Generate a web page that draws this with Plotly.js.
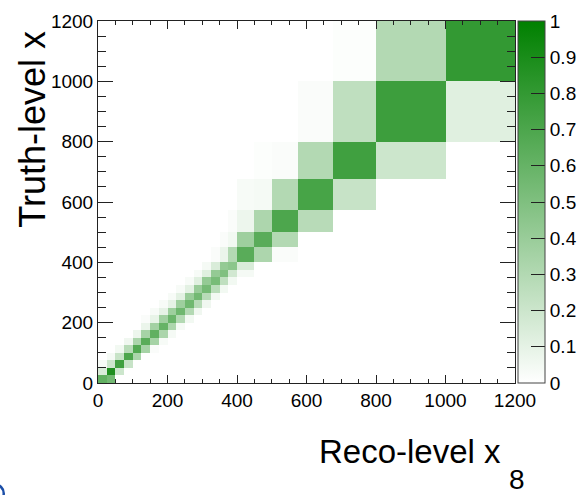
<!DOCTYPE html>
<html>
<head>
<meta charset="utf-8">
<script src="https://cdn.plot.ly/plotly-3.0.1.min.js"></script>
<style>
  html, body { margin: 0; padding: 0; background: #ffffff; }
  #chart { width: 581px; height: 495px; }
</style>
</head>
<body>
<div id="chart"></div>
<script>
// Variable-width bin edges, shared by the reco (x) and truth (y) axes
const recoEdges  = [0, 25, 50, 75, 100, 125, 150, 175, 200, 225, 250, 275, 300, 325, 350, 375, 400, 450, 500, 575, 675, 800, 1000, 1200];
const truthEdges = [0, 25, 50, 75, 100, 125, 150, 175, 200, 225, 250, 275, 300, 325, 350, 375, 400, 450, 500, 575, 675, 800, 1000, 1200];

// Migration fractions: one row per truth bin, one column per reco bin
const migration = [
  [0.62, 0.55, 0, 0, 0, 0, 0, 0, 0, 0, 0, 0, 0, 0, 0, 0, 0, 0, 0, 0, 0, 0, 0],
  [0.15, 0.88, 0.20, 0, 0, 0, 0, 0, 0, 0, 0, 0, 0, 0, 0, 0, 0, 0, 0, 0, 0, 0, 0],
  [0.03, 0.20, 0.75, 0.22, 0, 0, 0, 0, 0, 0, 0, 0, 0, 0, 0, 0, 0, 0, 0, 0, 0, 0, 0],
  [0, 0.04, 0.22, 0.70, 0.33, 0, 0, 0, 0, 0, 0, 0, 0, 0, 0, 0, 0, 0, 0, 0, 0, 0, 0],
  [0, 0, 0.05, 0.28, 0.68, 0.35, 0.02, 0, 0, 0, 0, 0, 0, 0, 0, 0, 0, 0, 0, 0, 0, 0, 0],
  [0, 0, 0, 0.06, 0.33, 0.65, 0.35, 0.03, 0, 0, 0, 0, 0, 0, 0, 0, 0, 0, 0, 0, 0, 0, 0],
  [0, 0, 0, 0, 0.07, 0.35, 0.62, 0.33, 0.04, 0, 0, 0, 0, 0, 0, 0, 0, 0, 0, 0, 0, 0, 0],
  [0, 0, 0, 0, 0, 0.08, 0.36, 0.60, 0.32, 0.04, 0, 0, 0, 0, 0, 0, 0, 0, 0, 0, 0, 0, 0],
  [0, 0, 0, 0, 0, 0.02, 0.09, 0.37, 0.58, 0.30, 0.05, 0, 0, 0, 0, 0, 0, 0, 0, 0, 0, 0, 0],
  [0, 0, 0, 0, 0, 0, 0.03, 0.10, 0.38, 0.57, 0.30, 0.06, 0, 0, 0, 0, 0, 0, 0, 0, 0, 0, 0],
  [0, 0, 0, 0, 0, 0, 0, 0.03, 0.10, 0.38, 0.56, 0.28, 0.06, 0, 0, 0, 0, 0, 0, 0, 0, 0, 0],
  [0, 0, 0, 0, 0, 0, 0, 0, 0.03, 0.11, 0.40, 0.55, 0.28, 0.05, 0, 0, 0, 0, 0, 0, 0, 0, 0],
  [0, 0, 0, 0, 0, 0, 0, 0, 0, 0.03, 0.11, 0.40, 0.54, 0.27, 0.05, 0, 0, 0, 0, 0, 0, 0, 0],
  [0, 0, 0, 0, 0, 0, 0, 0, 0, 0, 0.03, 0.12, 0.42, 0.53, 0.25, 0.05, 0, 0, 0, 0, 0, 0, 0],
  [0, 0, 0, 0, 0, 0, 0, 0, 0, 0, 0, 0.03, 0.12, 0.42, 0.50, 0.18, 0.04, 0, 0, 0, 0, 0, 0],
  [0, 0, 0, 0, 0, 0, 0, 0, 0, 0, 0, 0, 0.04, 0.15, 0.42, 0.45, 0.15, 0, 0, 0, 0, 0, 0],
  [0, 0, 0, 0, 0, 0, 0, 0, 0, 0, 0, 0, 0, 0.02, 0.08, 0.30, 0.65, 0.32, 0.02, 0, 0, 0, 0],
  [0, 0, 0, 0, 0, 0, 0, 0, 0, 0, 0, 0, 0, 0, 0.02, 0.05, 0.38, 0.65, 0.30, 0, 0, 0, 0],
  [0, 0, 0, 0, 0, 0, 0, 0, 0, 0, 0, 0, 0, 0, 0, 0.02, 0.07, 0.32, 0.70, 0.28, 0, 0, 0],
  [0, 0, 0, 0, 0, 0, 0, 0, 0, 0, 0, 0, 0, 0, 0, 0, 0.03, 0.04, 0.30, 0.72, 0.22, 0, 0],
  [0, 0, 0, 0, 0, 0, 0, 0, 0, 0, 0, 0, 0, 0, 0, 0, 0, 0.01, 0.02, 0.30, 0.75, 0.20, 0],
  [0, 0, 0, 0, 0, 0, 0, 0, 0, 0, 0, 0, 0, 0, 0, 0, 0, 0, 0, 0.02, 0.25, 0.76, 0.12],
  [0, 0, 0, 0, 0, 0, 0, 0, 0, 0, 0, 0, 0, 0, 0, 0, 0, 0, 0, 0, 0.01, 0.30, 0.80]
];

// Axis and colour-bar tick labels
const axisTicks = [0, 200, 400, 600, 800, 1000, 1200];
const axisTickText = ["0", "200", "400", "600", "800", "1000", "1200"];
const scaleTicks = [0, 0.1, 0.2, 0.3, 0.4, 0.5, 0.6, 0.7, 0.8, 0.9, 1];
const scaleTickText = ["0", "0.1", "0.2", "0.3", "0.4", "0.5", "0.6", "0.7", "0.8", "0.9", "1"];

const FONT = "Liberation Sans, Arial, Helvetica, sans-serif";
const INK = "#222222";

const trace = {
  type: "heatmap",
  x: recoEdges,
  y: truthEdges,
  z: migration,
  zmin: 0,
  zmax: 1,
  zsmooth: false,
  colorscale: [[0, "rgb(255,255,255)"], [1, "rgb(0,128,0)"]],
  hoverinfo: "skip",
  colorbar: {
    x: 1.007,
    xanchor: "left",
    y: 0.5,
    yanchor: "middle",
    len: 1,
    lenmode: "fraction",
    thickness: 27,
    thicknessmode: "pixels",
    xpad: 0,
    ypad: 0,
    outlinewidth: 1,
    outlinecolor: "#444444",
    ticks: "inside",
    ticklen: 14,
    tickwidth: 1,
    tickcolor: INK,
    tickmode: "array",
    tickvals: scaleTicks,
    ticktext: scaleTickText,
    tickfont: { family: FONT, size: 19, color: "#000000" },
    ticklabelpad: 1
  }
};

const axisCommon = {
  range: [0, 1200],
  tickmode: "array",
  tickvals: axisTicks,
  ticktext: axisTickText,
  ticks: "inside",
  tickwidth: 1,
  tickcolor: INK,
  showline: true,
  linecolor: INK,
  linewidth: 1,
  mirror: "ticks",
  showgrid: false,
  zeroline: false,
  tickfont: { family: FONT, size: 19, color: "#000000" },
  fixedrange: true
};

const layout = {
  width: 581,
  height: 495,
  // fixed margins so the colour bar sits in the right margin without shrinking the plot
  margin: { l: 98, r: 66, t: 21, b: 112, pad: 0, autoexpand: false },
  paper_bgcolor: "#ffffff",
  plot_bgcolor: "#ffffff",
  showlegend: false,
  xaxis: Object.assign({}, axisCommon, {
    ticklen: 8,
    minor: { dtick: 50, tick0: 0, ticks: "inside", ticklen: 4, tickcolor: INK, tickwidth: 1 }
  }),
  yaxis: Object.assign({}, axisCommon, {
    ticklen: 15,
    minor: { dtick: 50, tick0: 0, ticks: "inside", ticklen: 8, tickcolor: INK, tickwidth: 1 }
  }),
  annotations: [
    {
      text: "Reco-level x",
      xref: "paper", yref: "paper",
      x: 0.971, y: -0.19,
      xanchor: "right", yanchor: "middle",
      showarrow: false,
      font: { family: FONT, size: 33, color: "#000000" }
    },
    {
      text: "Truth-level x",
      xref: "paper", yref: "paper",
      x: -0.158, y: 0.70,
      xanchor: "center", yanchor: "middle",
      textangle: -90,
      showarrow: false,
      font: { family: FONT, size: 36, color: "#000000" }
    },
    {
      text: "8",
      xref: "paper", yref: "paper",
      x: 1.005, y: -0.266,
      xanchor: "center", yanchor: "middle",
      showarrow: false,
      font: { family: FONT, size: 28, color: "#000000" }
    }
  ],
  shapes: [
    {
      type: "circle",
      xref: "paper", yref: "paper",
      x0: -0.27, x1: -0.226,
      y0: -0.33, y1: -0.28,
      line: { color: "#1c4fa8", width: 2.5 },
      fillcolor: "rgba(0,0,0,0)"
    }
  ]
};

Plotly.newPlot("chart", [trace], layout, { displayModeBar: false, staticPlot: true });
</script>
</body>
</html>
